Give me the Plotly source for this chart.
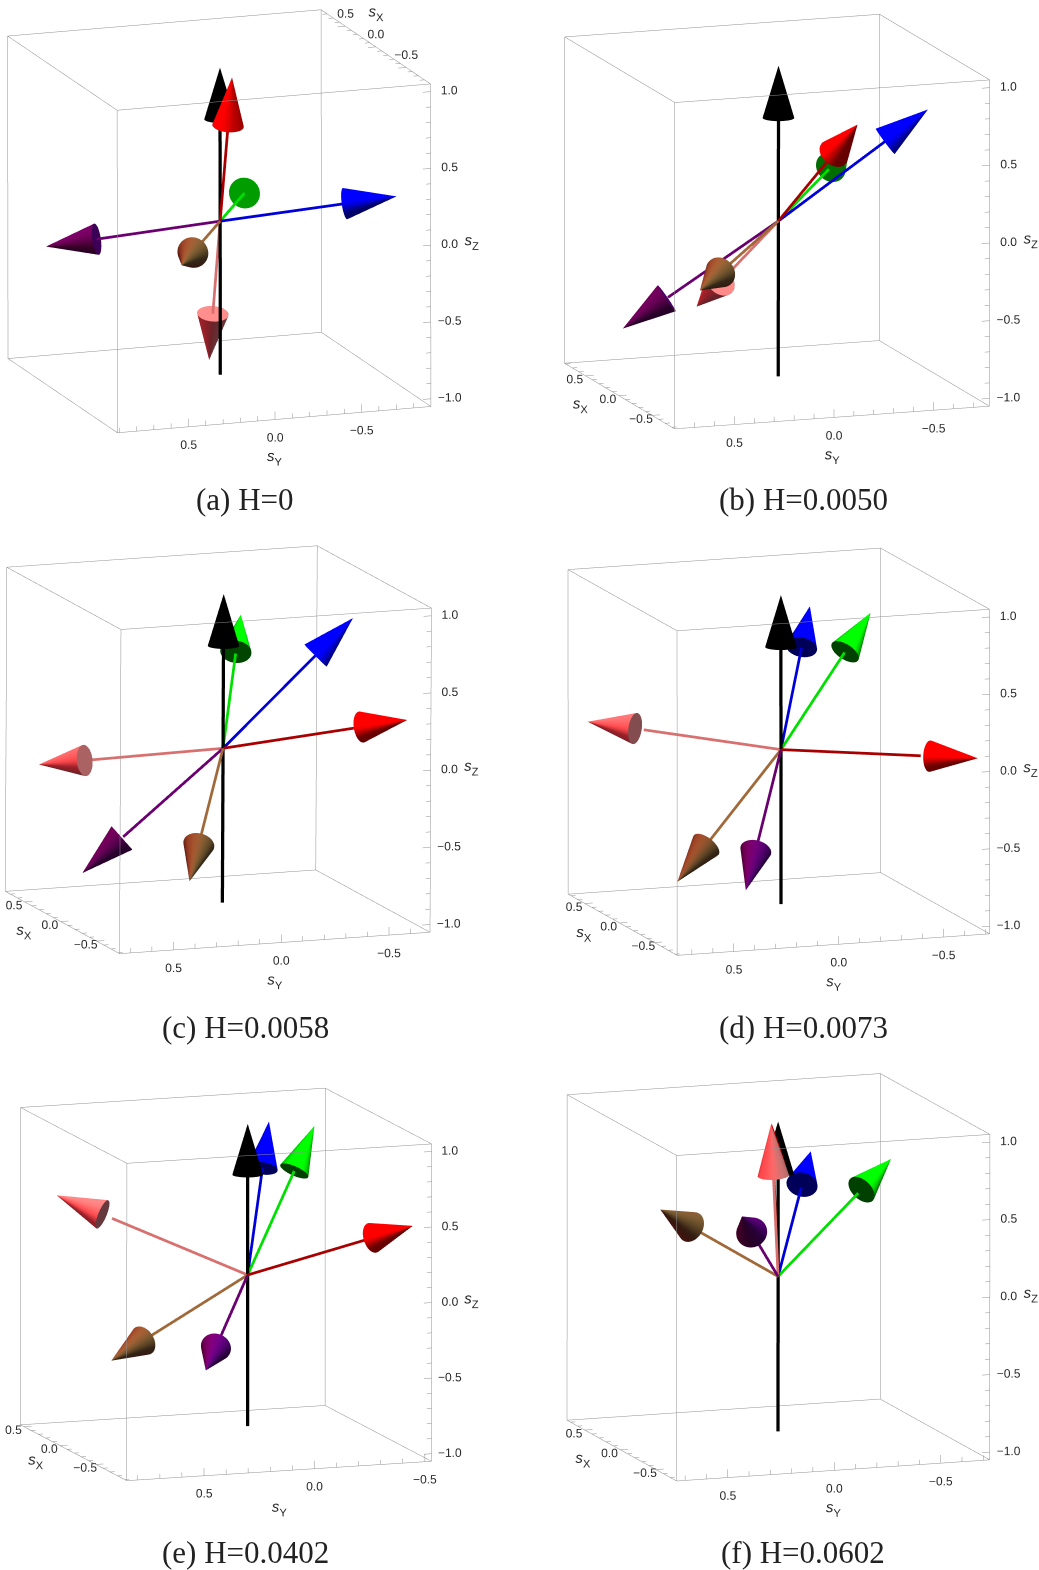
import numpy as np
import plotly.graph_objects as go

W, H = 1039, 1570
PANELS = ["a", "b", "c", "d", "e", "f"]
CAPTIONS = ["(a) H=0", "(b) H=0.0050", "(c) H=0.0058", "(d) H=0.0073", "(e) H=0.0402", "(f) H=0.0602"]
ARROW_NAMES = ["red", "green", "blue", "salmon", "brown", "purple"]

# spin components per panel, ordered as ARROW_NAMES
SX = {"a": [-0.17, 0.86, -0.48, 0.24, -0.85, 0.53],
      "b": [-0.62, 0.76, -0.18, 0.69, -0.74, 0.21],
      "c": [-0.73, 0.69, -0.12, 0.76, -0.65, 0.12],
      "d": [-0.72, 0.37, 0.58, 0.73, -0.35, -0.58],
      "e": [-0.73, 0.24, 0.38, 0.60, -0.50, -0.80],
      "f": [-0.03, 0.45, 0.71, -0.05, -0.41, -0.69]}
SY = {"a": [-0.01, -0.50, -0.85, -0.02, 0.52, 0.82],
      "b": [-0.19, -0.61, -0.69, 0.18, 0.64, 0.71],
      "c": [-0.61, -0.31, -0.56, 0.60, 0.37, 0.61],
      "d": [-0.70, -0.55, -0.33, 0.68, 0.61, 0.36],
      "e": [-0.51, -0.38, -0.22, 0.67, 0.78, 0.45],
      "f": [0.04, -0.68, -0.39, 0.05, 0.69, 0.40]}
SZ = {"a": [0.98, -0.02, 0.21, -0.97, -0.01, -0.23],
      "b": [0.76, 0.22, 0.70, -0.71, -0.20, -0.68],
      "c": [0.31, 0.66, 0.82, -0.24, -0.66, -0.78],
      "d": [0.06, 0.74, 0.75, 0.06, -0.71, -0.73],
      "e": [0.46, 0.89, 0.90, 0.44, -0.37, -0.39],
      "f": [0.998, 0.58, 0.59, 0.997, 0.60, 0.60]}
FIELD = [-1.0, 1.0]  # black arrow, along sz

X_RANGE = {"a": (-0.90, 0.90), "b": (-0.84, 0.82), "c": (-0.82, 0.77), "d": (-0.83, 0.74), "e": (-0.93, 0.55), "f": (-0.79, 0.75)}
Y_RANGE = {"a": (-0.90, 0.91), "b": (-0.78, 0.80), "c": (-0.69, 0.75), "d": (-0.72, 0.77), "e": (-0.53, 0.85), "f": (-0.73, 0.74)}
Z_RANGE = (-1.05, 1.05)
TICKS = [-1.0, -0.5, 0.0, 0.5, 1.0]

VIEW = {"a": (-0.917, 0.320, 0.237), "b": (-0.923, 0.323, 0.208), "c": (-0.919, 0.339, 0.199),
        "d": (-0.926, 0.323, 0.196), "e": (-0.928, 0.324, 0.183), "f": (-0.926, 0.324, 0.194)}
UP = {"a": (0.223, -0.079, 0.972), "b": (0.197, -0.068, 0.978), "c": (0.189, -0.065, 0.980),
      "d": (0.185, -0.065, 0.981), "e": (0.173, -0.060, 0.983), "f": (0.184, -0.064, 0.981)}
SCALE = {"a": 166.1, "b": 166.9, "c": 165.5, "d": 165.6, "e": 161.5, "f": 166.0}
BOX_CENTRE = {"a": (219.0, 221.4), "b": (776.3, 221.7), "c": (218.1, 750.2),
              "d": (778.1, 752.2), "e": (225.7, 1284.2), "f": (777.7, 1277.1)}
CAPTION_POS = {"a": (245, 500), "b": (803, 500), "c": (245, 1027), "d": (803, 1027), "e": (245, 1552), "f": (803, 1552)}

BASE = {"red": (1, 0, 0), "green": (0, 1, 0), "blue": (0, 0, 1), "salmon": (1, 0.5, 0.45),
        "brown": (0.5, 0.34, 0.17), "purple": (0.38, 0, 0.42), "black": (0, 0, 0)}
SHAFT = {"red": "#a80000", "green": "#00e000", "blue": "#0000d8", "salmon": "#d87070",
         "brown": "#a0693a", "purple": "#6a0070", "black": "#000000"}
AMBIENT = np.array([0.40, 0.25, 0.35])
LIGHTS = [((0, 0.8, 0.6), (0.75, 0.75, 0.75)), ((-0.8, 0.3, 0.4), (0.30, 0, 0)),
          ((0.7, 0.2, 0.4), (0, 0.25, 0)), ((0.8, 0.3, 0.4), (0, 0, 0.25))]

PAD = 1.6
HEAD_LEN = 0.32
HEAD_RAD = 0.095
LINE = "#8f8f8f"
TEXT = "#2a2a2a"
NSEG = 36
EYE_DIST = 6.0


def unit(v):
    v = np.asarray(v, float)
    return v / np.linalg.norm(v)


def shade(base, n, right, up, view):
    n = unit(n)
    cam = np.array([n @ right, n @ up, n @ view])
    c = AMBIENT.copy()
    for direction, col in LIGHTS:
        c = c + np.array(col) * max(0.0, cam @ unit(direction))
    c = np.clip(np.array(base) * c, 0, 1)
    return "rgb(%d,%d,%d)" % tuple(int(round(255 * q)) for q in c)


def head_mesh(tip, base, h, mid, right, up, view, scene):
    """cone in box-normalised space, mapped back to data space"""
    tb = (np.asarray(tip) - mid) / h
    ob = (0 - mid) / h
    ax = unit(tb - ob)
    cb = tb - ax * HEAD_LEN
    e1 = unit(np.cross(ax, [0.3, 0.5, 0.8]))
    e2 = np.cross(ax, e1)
    vs, cols, I, J, K = [], [], [], [], []
    ang = np.linspace(0, 2 * np.pi, NSEG + 1)
    slope = HEAD_RAD / HEAD_LEN
    disc = shade(base, -ax, right, up, view)
    for a0, a1 in zip(ang[:-1], ang[1:]):
        d0 = np.cos(a0) * e1 + np.sin(a0) * e2
        d1 = np.cos(a1) * e1 + np.sin(a1) * e2
        dm = unit(d0 + d1)
        p0 = cb + HEAD_RAD * d0
        p1 = cb + HEAD_RAD * d1
        i = len(vs)
        vs += [tb, p0, p1]
        cols += [shade(base, dm + slope * ax, right, up, view),
                 shade(base, d0 + slope * ax, right, up, view),
                 shade(base, d1 + slope * ax, right, up, view)]
        I.append(i); J.append(i + 1); K.append(i + 2)
        i = len(vs)
        vs += [cb, p0, p1]
        cols += [disc, disc, disc]
        I.append(i); J.append(i + 1); K.append(i + 2)
    v = np.array(vs) * h + mid
    return go.Mesh3d(x=v[:, 0], y=v[:, 1], z=v[:, 2], i=I, j=J, k=K, vertexcolor=cols, flatshading=False,
                     lighting=dict(ambient=1, diffuse=0, specular=0, fresnel=0, roughness=1),
                     hoverinfo="skip", showscale=False, scene=scene)


def segs(pairs):
    xs, ys, zs = [], [], []
    for a, b in pairs:
        xs += [a[0], b[0], None]
        ys += [a[1], b[1], None]
        zs += [a[2], b[2], None]
    return xs, ys, zs


def fmt(v):
    return ("\u2212" if v < 0 else "") + "%.1f" % abs(v)


fig = go.Figure()
layout = dict(width=W, height=H, margin=dict(l=0, r=0, t=0, b=0), showlegend=False,
              paper_bgcolor="white", plot_bgcolor="white",
              xaxis=dict(visible=False), yaxis=dict(visible=False))
annotations = []

cell_w = W / 2
cell_h = H / 3
for idx, p in enumerate(PANELS):
    scene = "scene" if idx == 0 else "scene%d" % (idx + 1)
    col, row = idx % 2, idx // 2
    xr, yr, zr = X_RANGE[p], Y_RANGE[p], Z_RANGE
    lo = np.array([xr[0], yr[0], zr[0]])
    hi = np.array([xr[1], yr[1], zr[1]])
    mid = (lo + hi) / 2
    h = (hi - lo) / 2

    view = unit(VIEW[p])
    up = unit(np.array(UP[p]) - (np.array(UP[p]) @ view) * view)
    right = np.cross(up, view)

    # wire box
    corners = lambda sx, sy, sz: tuple(mid + h * np.array([sx, sy, sz]))
    edges = []
    for a in (-1, 1):
        for b in (-1, 1):
            edges.append((corners(-1, a, b), corners(1, a, b)))
            edges.append((corners(a, -1, b), corners(a, 1, b)))
            edges.append((corners(a, b, -1), corners(a, b, 1)))
    x, y, z = segs(edges)
    fig.add_trace(go.Scatter3d(x=x, y=y, z=z, mode="lines", line=dict(color=LINE, width=1), hoverinfo="skip", scene=scene))

    # ticks
    grid = [round(-1 + 0.1 * i, 1) for i in range(21)]
    tick_pairs = []
    top_x = p == "a"
    for t in grid:
        L = 0.05 if abs(round(t * 2) - t * 2) < 1e-6 else 0.03
        if zr[0] <= t <= zr[1]:
            tick_pairs.append(((lo[0], lo[1], t), (lo[0], lo[1] + L * h[1], t)))
        if yr[0] <= t <= yr[1]:
            tick_pairs.append(((lo[0], t, lo[2]), (lo[0], t, lo[2] + L * h[2])))
        if xr[0] <= t <= xr[1]:
            if top_x:
                tick_pairs.append(((t, lo[1], hi[2]), (t, lo[1] + L * h[1], hi[2])))
            else:
                tick_pairs.append(((t, hi[1], lo[2]), (t, hi[1] - L * h[1], lo[2])))
    x, y, z = segs(tick_pairs)
    fig.add_trace(go.Scatter3d(x=x, y=y, z=z, mode="lines", line=dict(color=LINE, width=1), hoverinfo="skip", scene=scene))

    # tick labels
    lab = []
    for t in TICKS:
        lab.append((lo[0], lo[1] - 0.12 * h[1], t, fmt(t)))
        if yr[0] <= t <= yr[1]:
            lab.append((lo[0], t, lo[2] - 0.11 * h[2], fmt(t)))
        if xr[0] <= t <= xr[1]:
            if top_x:
                lab.append((t, lo[1], hi[2] + 0.08 * h[2], fmt(t)))
            else:
                lab.append((t, hi[1] + 0.07 * h[1], lo[2] - 0.015, fmt(t)))
    fig.add_trace(go.Scatter3d(x=[q[0] for q in lab], y=[q[1] for q in lab], z=[q[2] for q in lab], text=[q[3] for q in lab],
                               mode="text", textposition="middle center", textfont=dict(family="Liberation Sans", size=12, color=TEXT),
                               hoverinfo="skip", scene=scene))
    titles = [(lo[0], lo[1] - 0.26 * h[1], -0.01, "<i>s</i><sub>Z</sub>"),
              (lo[0], mid[1], lo[2] - 0.245 * h[2], "<i>s</i><sub>Y</sub>")]
    if top_x:
        titles.append((mid[0], lo[1], hi[2] + 0.2 * h[2], "<i>s</i><sub>X</sub>"))
    else:
        titles.append((mid[0], hi[1] + 0.25 * h[1], lo[2] - 0.05, "<i>s</i><sub>X</sub>"))
    fig.add_trace(go.Scatter3d(x=[q[0] for q in titles], y=[q[1] for q in titles], z=[q[2] for q in titles], text=[q[3] for q in titles],
                               mode="text", textposition="middle center", textfont=dict(family="Liberation Sans", size=15, color=TEXT),
                               hoverinfo="skip", scene=scene))

    # black arrow
    tail = np.array([0, 0, FIELD[0]])
    tip = np.array([0, 0, FIELD[1]])
    stop = tip * (1 - HEAD_LEN + 0.03)
    fig.add_trace(go.Scatter3d(x=[tail[0], stop[0]], y=[tail[1], stop[1]], z=[tail[2], stop[2]], mode="lines",
                               line=dict(color=SHAFT["black"], width=6.5), hoverinfo="skip", scene=scene))
    fig.add_trace(head_mesh(tip, BASE["black"], h, mid, right, up, view, scene))

    # coloured arrows
    for j, name in enumerate(ARROW_NAMES):
        tip = np.array([SX[p][j], SY[p][j], SZ[p][j]])
        stop = tip * (1 - HEAD_LEN + 0.03)
        fig.add_trace(go.Scatter3d(x=[0, stop[0]], y=[0, stop[1]], z=[0, stop[2]], mode="lines",
                                   line=dict(color=SHAFT[name], width=5.5), hoverinfo="skip", scene=scene))
        fig.add_trace(head_mesh(tip, BASE[name], h, mid, right, up, view, scene))

    # camera: in orthographic mode the aspect ratio sets the zoom
    x0, x1 = col * cell_w, (col + 1) * cell_w
    y0, y1 = row * cell_h, (row + 1) * cell_h
    S = SCALE[p]
    k = PAD * S / (cell_h / 4)
    cx, cy = BOX_CENTRE[p]
    dx = cx - (x0 + x1) / 2
    dy = (y0 + y1) / 2 - cy
    centre = -(dx * right + dy * up) / (cell_h / 2)
    eye = centre + EYE_DIST * view
    invis = dict(visible=False, showspikes=False)
    layout[scene] = dict(
        domain=dict(x=[x0 / W, x1 / W], y=[1 - y1 / H, 1 - y0 / H]),
        xaxis=dict(range=[mid[0] - PAD * h[0], mid[0] + PAD * h[0]], **invis),
        yaxis=dict(range=[mid[1] - PAD * h[1], mid[1] + PAD * h[1]], **invis),
        zaxis=dict(range=[mid[2] - PAD * h[2], mid[2] + PAD * h[2]], **invis),
        aspectmode="manual", aspectratio=dict(x=k, y=k, z=k), bgcolor="rgba(0,0,0,0)",
        camera=dict(eye=dict(x=eye[0], y=eye[1], z=eye[2]), center=dict(x=centre[0], y=centre[1], z=centre[2]),
                    up=dict(x=up[0], y=up[1], z=up[2]), projection=dict(type="orthographic")))
    cap = CAPTION_POS[p]
    annotations.append(dict(text=CAPTIONS[idx], x=cap[0] / W, y=1 - cap[1] / H, xref="paper", yref="paper",
                            showarrow=False, xanchor="center", yanchor="middle",
                            font=dict(family="Liberation Serif", size=31, color="#222222")))

layout["annotations"] = annotations
fig.update_layout(**layout)
fig.write_html("out.html", config={"displayModeBar": False}, post_script="document.body.style.margin='0';")
